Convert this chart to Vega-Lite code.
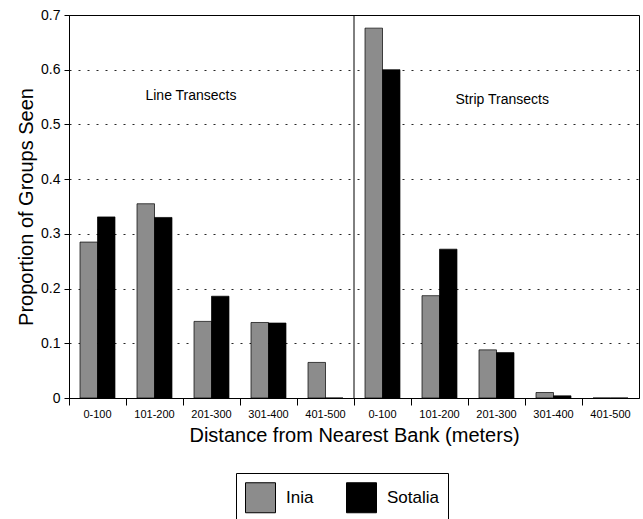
{
  "$schema": "https://vega.github.io/schema/vega-lite/v6.json",
  "width": 570,
  "height": 383,
  "autosize": {"type": "none"},
  "padding": {"left": 69, "top": 15, "right": 4, "bottom": 121},
  "background": "white",
  "config": {
    "font": "Liberation Sans",
    "view": {"stroke": "black", "strokeWidth": 1}
  },
  "datasets": {
    "bars": [
      {"cat": "L|0-100", "species": "Inia", "value": 0.285},
      {"cat": "L|0-100", "species": "Sotalia", "value": 0.331},
      {"cat": "L|101-200", "species": "Inia", "value": 0.355},
      {"cat": "L|101-200", "species": "Sotalia", "value": 0.330},
      {"cat": "L|201-300", "species": "Inia", "value": 0.140},
      {"cat": "L|201-300", "species": "Sotalia", "value": 0.186},
      {"cat": "L|301-400", "species": "Inia", "value": 0.138},
      {"cat": "L|301-400", "species": "Sotalia", "value": 0.137},
      {"cat": "L|401-500", "species": "Inia", "value": 0.065},
      {"cat": "L|401-500", "species": "Sotalia", "value": 0.0},
      {"cat": "S|0-100", "species": "Inia", "value": 0.676},
      {"cat": "S|0-100", "species": "Sotalia", "value": 0.600},
      {"cat": "S|101-200", "species": "Inia", "value": 0.187},
      {"cat": "S|101-200", "species": "Sotalia", "value": 0.272},
      {"cat": "S|201-300", "species": "Inia", "value": 0.088},
      {"cat": "S|201-300", "species": "Sotalia", "value": 0.083},
      {"cat": "S|301-400", "species": "Inia", "value": 0.010},
      {"cat": "S|301-400", "species": "Sotalia", "value": 0.004},
      {"cat": "S|401-500", "species": "Inia", "value": 0.0},
      {"cat": "S|401-500", "species": "Sotalia", "value": 0.0}
    ]
  },
  "layer": [
    {
      "data": {"name": "bars"},
      "mark": {"type": "bar", "stroke": "black", "strokeWidth": 0.7},
      "encoding": {
        "x": {
          "field": "cat",
          "type": "nominal",
          "scale": {
            "domain": ["L|0-100", "L|101-200", "L|201-300", "L|301-400", "L|401-500", "S|0-100", "S|101-200", "S|201-300", "S|301-400", "S|401-500"],
            "paddingInner": 0,
            "paddingOuter": 0
          },
          "axis": {
            "title": "Distance from Nearest Bank (meters)",
            "labelExpr": "split(datum.label, '|')[1]",
            "labelAngle": 0,
            "labelFontSize": 11,
            "labelColor": "black",
            "labelPadding": 3,
            "titleFontSize": 20,
            "titleFontWeight": "normal",
            "titleColor": "black",
            "titlePadding": 6,
            "domainColor": "black",
            "tickColor": "black",
            "tickSize": 7,
            "bandPosition": 0
          }
        },
        "xOffset": {
          "field": "species",
          "type": "nominal",
          "scale": {"domain": ["Inia", "Sotalia"], "paddingInner": 0, "paddingOuter": 0.63}
        },
        "y": {
          "field": "value",
          "type": "quantitative",
          "scale": {"domain": [0, 0.7]},
          "axis": {
            "title": "Proportion of Groups Seen",
            "values": [0, 0.1, 0.2, 0.3, 0.4, 0.5, 0.6, 0.7],
            "labelExpr": "datum.value == 0 ? '0' : format(datum.value, '.1f')",
            "labelFontSize": 14,
            "labelColor": "black",
            "labelPadding": 4,
            "titleFontSize": 20,
            "titleFontWeight": "normal",
            "titleColor": "black",
            "titlePadding": 4,
            "domainColor": "black",
            "tickColor": "black",
            "tickSize": 5,
            "grid": true,
            "gridColor": "black",
            "gridDash": [2, 7],
            "gridWidth": 1.2,
            "gridOpacity": 0.85
          }
        },
        "color": {
          "field": "species",
          "type": "nominal",
          "scale": {"domain": ["Inia", "Sotalia"], "range": ["#8c8c8c", "#000000"]},
          "legend": {
            "orient": "none",
            "legendX": 167,
            "legendY": 458,
            "direction": "horizontal",
            "title": null,
            "symbolType": "square",
            "symbolSize": 900,
            "symbolStrokeColor": "black",
            "symbolStrokeWidth": 1,
            "symbolOpacity": 1,
            "labelFontSize": 17,
            "labelColor": "black",
            "labelOffset": 10,
            "columnPadding": 30,
            "strokeColor": "black",
            "fillColor": "white",
            "padding": 9
          }
        }
      }
    },
    {
      "data": {"values": [{"cat": "S|0-100"}]},
      "mark": {"type": "rule", "color": "black", "strokeWidth": 1},
      "encoding": {
        "x": {"field": "cat", "type": "nominal", "bandPosition": 0}
      }
    },
    {
      "data": {"values": [{"cat": "L|201-300", "value": 0.552, "label": "Line Transects"}]},
      "mark": {"type": "text", "fontSize": 14, "color": "black", "align": "center", "baseline": "middle"},
      "encoding": {
        "x": {"field": "cat", "type": "nominal", "bandPosition": 0.14},
        "y": {"field": "value", "type": "quantitative"},
        "text": {"field": "label"}
      }
    },
    {
      "data": {"values": [{"cat": "S|201-300", "value": 0.545, "label": "Strip Transects"}]},
      "mark": {"type": "text", "fontSize": 14, "color": "black", "align": "center", "baseline": "middle"},
      "encoding": {
        "x": {"field": "cat", "type": "nominal", "bandPosition": 0.6},
        "y": {"field": "value", "type": "quantitative"},
        "text": {"field": "label"}
      }
    }
  ]
}
